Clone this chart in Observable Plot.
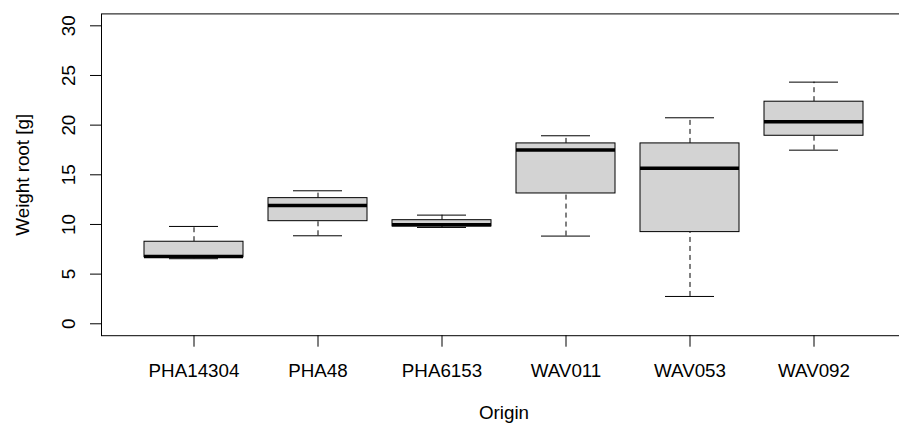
<!DOCTYPE html>
<html>
<head>
<meta charset="utf-8">
<script src="https://cdn.jsdelivr.net/npm/d3@7"></script>
<script src="https://cdn.jsdelivr.net/npm/@observablehq/plot@0.6"></script>
<style>
  html, body { margin: 0; padding: 0; background: white; overflow: hidden; }
  #chart svg { display: block; }
</style>
</head>
<body>
<div id="chart"></div>
<script>
const categories = ["PHA14304", "PHA48", "PHA6153", "WAV011", "WAV053", "WAV092"];
const mins    = [6.55, 8.86, 9.7, 8.83, 2.75, 17.48];
const q1s     = [6.7, 10.33, 9.8, 13.12, 9.23, 18.93];
const medians = [6.78, 11.91, 9.97, 17.49, 15.67, 20.34];
const q3s     = [8.26, 12.65, 10.43, 18.16, 18.16, 22.36];
const maxs    = [9.8, 13.39, 10.94, 18.93, 20.74, 24.33];
const yTicks  = [0, 5, 10, 15, 20, 25, 30];
const xTitle = "Origin";
const yTitle = "Weight root [g]";

const rows = categories.map((c, i) => ({
  origin: c, min: mins[i], q1: q1s[i], median: medians[i], q3: q3s[i], max: maxs[i]
}));

const W = 899, H = 423;
const font = "'Liberation Sans', Arial, sans-serif";
const fs = 18.8;

const chart = Plot.plot({
  width: W,
  height: H,
  marginLeft: 101,
  marginRight: -7,
  marginTop: 13.4,
  marginBottom: H - 335.2,
  style: { fontFamily: font, fontSize: fs + "px", background: "white", overflow: "hidden", color: "black" },
  x: { domain: categories, paddingInner: 0.2, paddingOuter: 0.34, axis: null, label: null },
  y: { domain: [-1.2, 31.2], axis: null, label: null },
  marks: [
    // whiskers (dashed)
    Plot.ruleX(rows, { x: "origin", y1: "q3", y2: "max", stroke: "black", strokeWidth: 1, strokeDasharray: "5,4" }),
    Plot.ruleX(rows, { x: "origin", y1: "min", y2: "q1", stroke: "black", strokeWidth: 1, strokeDasharray: "5,4" }),
    // whisker caps
    Plot.tickY(rows, { x: "origin", y: "max", stroke: "black", strokeWidth: 1, insetLeft: 25, insetRight: 25 }),
    Plot.tickY(rows, { x: "origin", y: "min", stroke: "black", strokeWidth: 1, insetLeft: 25, insetRight: 25 }),
    // boxes
    Plot.barY(rows, { x: "origin", y1: "q1", y2: "q3", fill: "#d3d3d3", stroke: "black", strokeWidth: 1 }),
    // medians
    Plot.tickY(rows, { x: "origin", y: "median", stroke: "black", strokeWidth: 3.5 }),
    // frame
    Plot.frame({ stroke: "black", strokeWidth: 1 }),
    // y axis ticks
    Plot.axisY(yTicks, { tickSize: 11, tickFormat: () => "", label: null, stroke: "black", strokeWidth: 1 }),
    // y tick labels (rotated)
    Plot.text(yTicks, { y: d => d, text: d => String(d), frameAnchor: "left", dx: -27, rotate: -90,
      textAnchor: "middle", lineAnchor: "bottom", fill: "black", fontSize: fs }),
    // x axis ticks
    Plot.axisX(categories, { tickSize: 11.5, tickFormat: () => "", label: null, stroke: "black", strokeWidth: 1 }),
    // x tick labels
    Plot.text(categories, { x: d => d, text: d => d, frameAnchor: "bottom", dy: 41,
      lineAnchor: "bottom", fill: "black", fontSize: fs }),
    // axis titles
    Plot.text([xTitle], { frameAnchor: "bottom", dy: 83, text: d => d, lineAnchor: "bottom", fill: "black", fontSize: fs }),
    Plot.text([yTitle], { frameAnchor: "left", dx: -73, rotate: -90, text: d => d,
      textAnchor: "middle", lineAnchor: "bottom", fill: "black", fontSize: fs })
  ]
});
document.getElementById("chart").appendChild(chart);
</script>
</body>
</html>
